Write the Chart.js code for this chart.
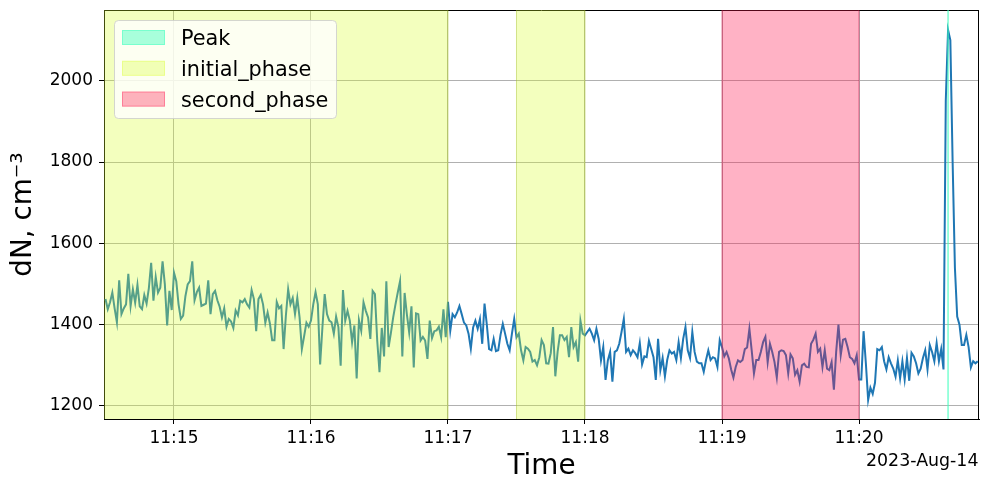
<!DOCTYPE html>
<html><head><meta charset="utf-8">
<script src="https://cdn.jsdelivr.net/npm/chart.js@4.4.1/dist/chart.umd.min.js"></script>
<style>html,body{margin:0;padding:0;background:#fff;}canvas{display:block;}</style>
</head><body>
<canvas id="c" width="989" height="490"></canvas>
<script>
// ---- data ----
const startTime = '11:14:30';
const stepSeconds = 1;
const dN = [
1463,1438,1455,1479,1440,1406,1509,1426,1440,1450,
1525,1446,1487,1454,1498,1445,1438,1473,1452,1490,
1552,1459,1517,1479,1491,1556,1499,1398,1483,1436,
1528,1507,1450,1414,1422,1470,1499,1507,1556,1460,
1480,1491,1446,1449,1452,1509,1426,1475,1483,1460,
1444,1418,1440,1395,1414,1408,1392,1435,1423,1459,
1455,1463,1450,1442,1485,1463,1384,1463,1473,1450,
1405,1430,1403,1362,1362,1456,1440,1446,1340,1422,
1487,1450,1466,1426,1466,1418,1340,1372,1405,1395,
1410,1450,1480,1450,1302,1393,1475,1426,1410,1406,
1378,1420,1394,1299,1485,1410,1434,1410,1357,1398,
1268,1411,1385,1455,1434,1418,1365,1483,1475,1361,
1283,1392,1322,1507,1345,1380,1418,1450,1479,1507,
1322,1478,1425,1381,1445,1295,1428,1426,1361,1370,
1361,1316,1410,1367,1384,1386,1395,1369,1438,1369,
1456,1385,1426,1418,1430,1446,1426,1405,1398,1378,
1341,1393,1410,1390,1414,1353,1452,1400,1340,1337,
1365,1335,1337,1375,1402,1378,1353,1337,1378,1414,
1369,1378,1337,1312,1345,1341,1333,1309,1313,1300,
1320,1362,1350,1305,1304,1330,1394,1273,1333,1374,
1374,1362,1370,1320,1394,1345,1357,1309,1410,1378,
1374,1382,1390,1378,1362,1390,1365,1312,1345,1264,
1312,1333,1260,1333,1337,1353,1382,1414,1333,1341,
1325,1337,1330,1320,1355,1302,1322,1320,1360,1340,
1320,1264,1365,1288,1318,1273,1313,1337,1329,1333,
1313,1357,1318,1365,1394,1337,1318,1382,1333,1309,
1305,1305,1284,1313,1337,1313,1320,1317,1296,1362,
1345,1322,1333,1317,1290,1270,1296,1312,1308,1313,
1340,1344,1390,1337,1280,1313,1313,1333,1357,1370,
1308,1353,1333,1308,1270,1333,1337,1335,1325,1280,
1327,1317,1277,1288,1260,1300,1304,1296,1295,1353,
1363,1378,1333,1341,1296,1337,1292,1288,1308,1240,
1333,1400,1325,1363,1365,1345,1320,1316,1305,1325,
1265,1265,1384,1305,1215,1245,1230,1257,1340,1337,
1345,1310,1290,1320,1305,1292,1272,1312,1268,1310,
1265,1318,1262,1331,1322,1305,1280,1292,1318,1337,
1290,1350,1333,1310,1355,1310,1340,1290,1950,2125,
2100,1800,1540,1420,1400,1350,1350,1375,1345,1295,
1310,1305,1310
];
const xLimits = ['11:14:29.35', '11:20:52.55'];
const xTickLabels = ['11:15', '11:16', '11:17', '11:18', '11:19', '11:20'];
const yTicks = [1200, 1400, 1600, 1800, 2000];
const yLimits = [1168, 2174];
const spanNames = ['Peak', 'initial_phase', 'second_phase'];
const peakSpans = [['11:20:39', '11:20:39']];
const initialPhaseSpans = [['11:14:29', '11:17:00'], ['11:17:30', '11:18:00']];
const secondPhaseSpans = [['11:19:00', '11:20:00']];
const xTitle = 'Time';
const yTitle = 'dN, cm\u207B\u00B3';
const dateLabel = '2023-Aug-14';

// ---- helpers ----
function toSec(s) {
  const p = s.split(':').map(Number);
  return p[0] * 3600 + p[1] * 60 + (p[2] || 0);
}
function fmtHM(v) {
  const h = Math.floor(v / 3600), m = Math.round((v - h * 3600) / 60);
  return String(h).padStart(2, '0') + ':' + String(m).padStart(2, '0');
}
const t0 = toSec(startTime);
const points = dN.map((v, i) => ({ x: t0 + i * stepSeconds, y: v }));

const spanStyles = [
  { fill: 'rgba(64,255,190,0.45)', edge: 'rgba(64,255,190,0.7)' },
  { fill: 'rgba(215,255,40,0.30)', edge: 'rgba(160,190,30,0.45)' },
  { fill: 'rgba(255,20,80,0.33)', edge: 'rgba(200,30,80,0.55)' }
];
const spanGroups = [peakSpans, initialPhaseSpans, secondPhaseSpans];

Chart.defaults.font.family = "'DejaVu Sans', sans-serif";
Chart.defaults.color = '#000';

const overlay = {
  id: 'overlay',
  beforeDatasetsDraw(chart) {
    const { ctx, chartArea: a } = chart;
    ctx.save();
    ctx.strokeStyle = '#000';
    ctx.lineWidth = 1;
    ctx.beginPath();
    ctx.moveTo(a.left, a.top + 0.5); ctx.lineTo(a.right, a.top + 0.5);
    ctx.moveTo(a.right - 0.5, a.top); ctx.lineTo(a.right - 0.5, a.bottom);
    ctx.stroke();
    ctx.restore();
  },
  afterDatasetsDraw(chart) {
    const { ctx, chartArea: a, scales: { x } } = chart;
    ctx.save();
    ctx.beginPath();
    ctx.rect(a.left, a.top - 1, a.right - a.left, a.bottom - a.top + 2);
    ctx.clip();
    [1, 2, 0].forEach(gi => {
      const st = spanStyles[gi];
      spanGroups[gi].forEach(([s, e]) => {
        const x1 = x.getPixelForValue(toSec(s));
        const x2 = x.getPixelForValue(toSec(e));
        ctx.fillStyle = st.fill;
        ctx.fillRect(x1, a.top, x2 - x1, a.bottom - a.top);
        ctx.strokeStyle = st.edge;
        ctx.lineWidth = gi === 0 ? 1.5 : 1;
        ctx.beginPath();
        ctx.moveTo(x1, a.top); ctx.lineTo(x1, a.bottom);
        if (x2 !== x1) { ctx.moveTo(x2, a.top); ctx.lineTo(x2, a.bottom); }
        ctx.stroke();
      });
    });
    ctx.restore();
  },
  afterDraw(chart) {
    const { ctx } = chart;
    ctx.save();
    const bx = 114.5, by = 20.5, bw = 222, bh = 98, r = 4;
    ctx.beginPath();
    ctx.moveTo(bx + r, by);
    ctx.arcTo(bx + bw, by, bx + bw, by + bh, r);
    ctx.arcTo(bx + bw, by + bh, bx, by + bh, r);
    ctx.arcTo(bx, by + bh, bx, by, r);
    ctx.arcTo(bx, by, bx + bw, by, r);
    ctx.closePath();
    ctx.fillStyle = 'rgba(255,255,255,0.8)';
    ctx.fill();
    ctx.strokeStyle = 'rgba(204,204,204,0.8)';
    ctx.lineWidth = 1;
    ctx.stroke();
    ctx.font = "20.8px 'DejaVu Sans'";
    ctx.textBaseline = 'alphabetic';
    ctx.textAlign = 'left';
    spanNames.forEach((name, i) => {
      const baseY = 45 + i * 30.8;
      ctx.fillStyle = spanStyles[i].fill;
      ctx.fillRect(122, baseY - 15, 43, 15);
      ctx.strokeStyle = spanStyles[i].fill;
      ctx.strokeRect(122.5, baseY - 14.5, 42, 14);
      ctx.fillStyle = '#000';
      ctx.fillText(name, 181, baseY);
    });
    ctx.font = "17.4px 'DejaVu Sans'";
    ctx.textAlign = 'right';
    ctx.fillText(dateLabel, 978.5, 465.5);
    ctx.restore();
  }
};

new Chart(document.getElementById('c'), {
  type: 'line',
  data: {
    datasets: [{
      label: 'dN',
      data: points,
      borderColor: '#1f77b4',
      borderWidth: 2,
      pointRadius: 0,
      tension: 0,
      fill: false
    }]
  },
  options: {
    responsive: false,
    animation: false,
    devicePixelRatio: 1,
    layout: { padding: { top: 10, right: 10, left: 0, bottom: 0 } },
    plugins: { legend: { display: false }, tooltip: { enabled: false } },
    scales: {
      x: {
        type: 'linear',
        min: toSec(xLimits[0]),
        max: toSec(xLimits[1]),
        afterBuildTicks: s => { s.ticks = xTickLabels.map(l => ({ value: toSec(l) })); },
        afterFit: s => { s.height = 71; s.paddingLeft = 0; s.paddingRight = 0; },
        ticks: { callback: v => fmtHM(v), color: '#000', font: { size: 17 }, padding: 4, maxRotation: 0, autoSkip: false },
        grid: { color: '#b0b0b0', lineWidth: 1, tickColor: '#000', tickLength: 5, drawTicks: true },
        border: { color: '#000', width: 1 },
        title: { display: true, text: xTitle, color: '#000', font: { size: 27.8 }, padding: { top: 0, bottom: 7 } }
      },
      y: {
        type: 'linear',
        min: yLimits[0],
        max: yLimits[1],
        afterBuildTicks: s => { s.ticks = yTicks.map(v => ({ value: v })); },
        afterFit: s => { s.width = 104; s.paddingTop = 0; s.paddingBottom = 0; },
        ticks: { callback: v => String(v), color: '#000', font: { size: 17 }, padding: 6 },
        grid: { color: '#b0b0b0', lineWidth: 1, tickColor: '#000', tickLength: 5, drawTicks: true },
        border: { color: '#000', width: 1 },
        title: { display: true, text: yTitle, color: '#000', font: { size: 27.8 }, padding: { top: 7, bottom: 0 } }
      }
    }
  },
  plugins: [overlay]
});
</script>
</body></html>
